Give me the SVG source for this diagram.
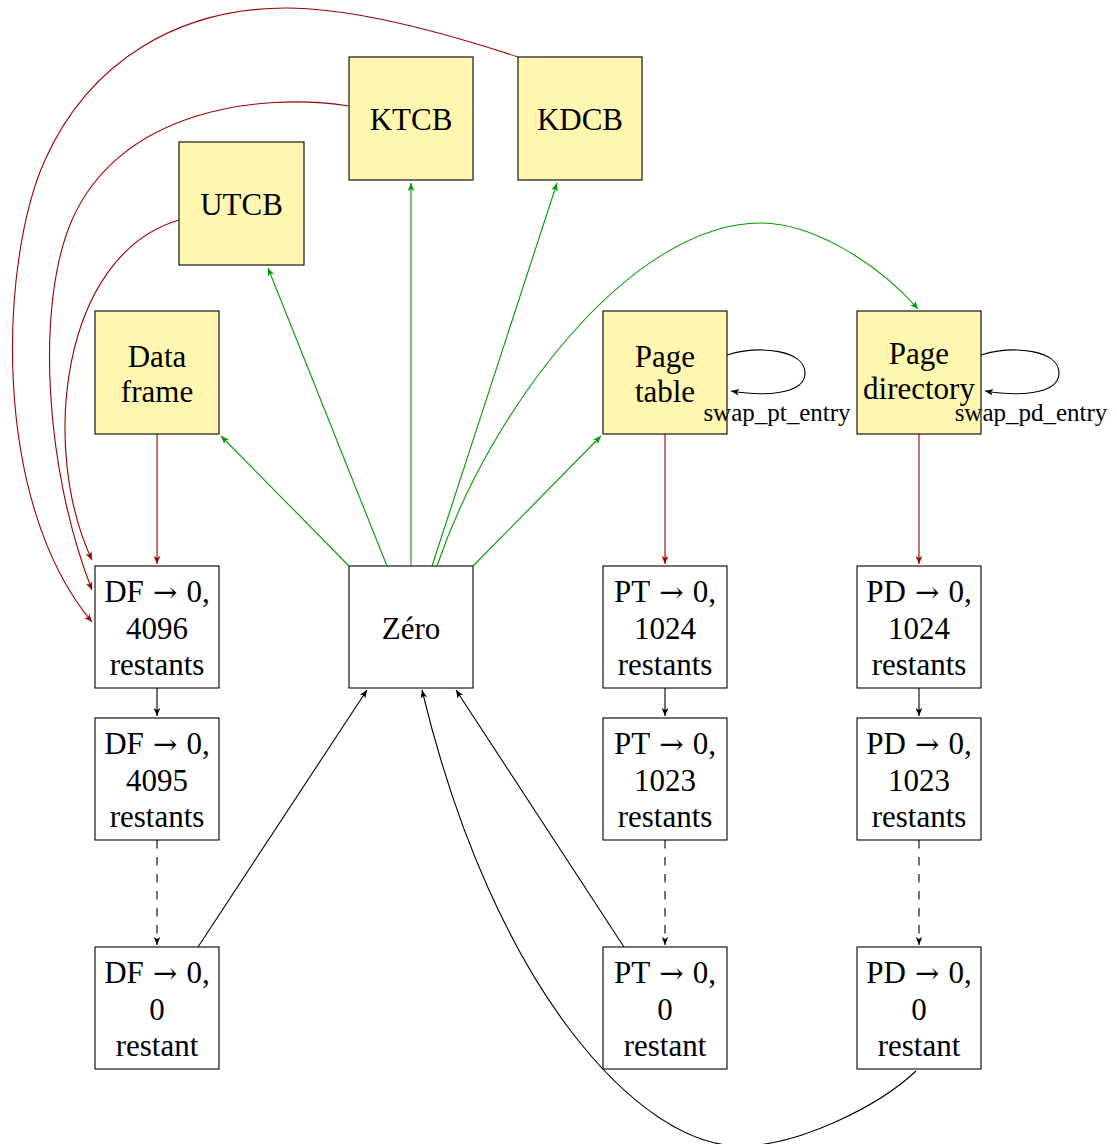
<svg xmlns="http://www.w3.org/2000/svg" width="1117" height="1144" viewBox="0 0 1117 1144">
  <style>
    .box { stroke: #000; stroke-width: 1.1; }
    .store { fill: #fff6b0; }
    .state { fill: #fff; }
    .lbl { font-family: "Liberation Serif", "DejaVu Serif", serif; font-size: 31px; fill: #000; text-anchor: middle; }
    .arr { font-family: "DejaVu Serif", serif; font-size: 29px; }
    .small { font-family: "Liberation Serif", "DejaVu Serif", serif; font-size: 25px; fill: #000; text-anchor: middle; }
    .edge { fill: none; stroke-width: 1.1; }
    .red { stroke: #990000; marker-end: url(#ah-red); }
    .green { stroke: #009900; marker-end: url(#ah-green); }
    .black { stroke: #000; marker-end: url(#ah-black); }
    .dash { stroke-dasharray: 8.5 8.5; }
  </style>
  <defs>
    <marker id="ah-black" viewBox="-9 -4 10 8" refX="0" refY="0" markerWidth="10" markerHeight="8" markerUnits="userSpaceOnUse" orient="auto">
      <path d="M0,0 L-8,-3.3 L-6,0 L-8,3.3 Z" fill="#000"/>
    </marker>
    <marker id="ah-red" viewBox="-9 -4 10 8" refX="0" refY="0" markerWidth="10" markerHeight="8" markerUnits="userSpaceOnUse" orient="auto">
      <path d="M0,0 L-8,-3.3 L-6,0 L-8,3.3 Z" fill="#990000"/>
    </marker>
    <marker id="ah-green" viewBox="-9 -4 10 8" refX="0" refY="0" markerWidth="10" markerHeight="8" markerUnits="userSpaceOnUse" orient="auto">
      <path d="M0,0 L-8,-3.3 L-6,0 L-8,3.3 Z" fill="#009900"/>
    </marker>
  </defs>

  <!-- frame types (yellow) -->
  <g id="ktcb">
    <rect class="box store" x="349" y="57" width="124" height="123"/>
    <text class="lbl" x="411" y="130">KTCB</text>
  </g>
  <g id="kdcb">
    <rect class="box store" x="518" y="57" width="124" height="123"/>
    <text class="lbl" x="580" y="130">KDCB</text>
  </g>
  <g id="utcb">
    <rect class="box store" x="179" y="142" width="125" height="123"/>
    <text class="lbl" x="241.5" y="215">UTCB</text>
  </g>
  <g id="data-frame">
    <rect class="box store" x="95" y="311" width="124" height="123"/>
    <text class="lbl" x="157" y="367">Data</text>
    <text class="lbl" x="157" y="402">frame</text>
  </g>
  <g id="page-table">
    <rect class="box store" x="603" y="311" width="124" height="123"/>
    <text class="lbl" x="665" y="367">Page</text>
    <text class="lbl" x="665" y="402">table</text>
  </g>
  <g id="page-directory">
    <rect class="box store" x="857" y="311" width="124" height="123"/>
    <text class="lbl" x="919" y="364">Page</text>
    <text class="lbl" x="919" y="399">directory</text>
  </g>

  <!-- reference-count states -->
  <g id="zero">
    <rect class="box state" x="349" y="566" width="124" height="122"/>
    <text class="lbl" x="411" y="639">Zéro</text>
  </g>
  <g id="df-4096">
    <rect class="box state" x="95" y="566" width="124" height="122"/>
    <text class="lbl" x="157" y="602">DF<tspan class="arr"> → </tspan>0,</text>
    <text class="lbl" x="157" y="639">4096</text>
    <text class="lbl" x="157" y="675">restants</text>
  </g>
  <g id="df-4095">
    <rect class="box state" x="95" y="718" width="124" height="122"/>
    <text class="lbl" x="157" y="754">DF<tspan class="arr"> → </tspan>0,</text>
    <text class="lbl" x="157" y="791">4095</text>
    <text class="lbl" x="157" y="827">restants</text>
  </g>
  <g id="df-0">
    <rect class="box state" x="95" y="947" width="124" height="122"/>
    <text class="lbl" x="157" y="983">DF<tspan class="arr"> → </tspan>0,</text>
    <text class="lbl" x="157" y="1020">0</text>
    <text class="lbl" x="157" y="1056">restant</text>
  </g>
  <g id="pt-1024">
    <rect class="box state" x="603" y="566" width="124" height="122"/>
    <text class="lbl" x="665" y="602">PT<tspan class="arr"> → </tspan>0,</text>
    <text class="lbl" x="665" y="639">1024</text>
    <text class="lbl" x="665" y="675">restants</text>
  </g>
  <g id="pt-1023">
    <rect class="box state" x="603" y="718" width="124" height="122"/>
    <text class="lbl" x="665" y="754">PT<tspan class="arr"> → </tspan>0,</text>
    <text class="lbl" x="665" y="791">1023</text>
    <text class="lbl" x="665" y="827">restants</text>
  </g>
  <g id="pt-0">
    <rect class="box state" x="603" y="947" width="124" height="122"/>
    <text class="lbl" x="665" y="983">PT<tspan class="arr"> → </tspan>0,</text>
    <text class="lbl" x="665" y="1020">0</text>
    <text class="lbl" x="665" y="1056">restant</text>
  </g>
  <g id="pd-1024">
    <rect class="box state" x="857" y="566" width="124" height="122"/>
    <text class="lbl" x="919" y="602">PD<tspan class="arr"> → </tspan>0,</text>
    <text class="lbl" x="919" y="639">1024</text>
    <text class="lbl" x="919" y="675">restants</text>
  </g>
  <g id="pd-1023">
    <rect class="box state" x="857" y="718" width="124" height="122"/>
    <text class="lbl" x="919" y="754">PD<tspan class="arr"> → </tspan>0,</text>
    <text class="lbl" x="919" y="791">1023</text>
    <text class="lbl" x="919" y="827">restants</text>
  </g>
  <g id="pd-0">
    <rect class="box state" x="857" y="947" width="124" height="122"/>
    <text class="lbl" x="919" y="983">PD<tspan class="arr"> → </tspan>0,</text>
    <text class="lbl" x="919" y="1020">0</text>
    <text class="lbl" x="919" y="1056">restant</text>
  </g>

  <g id="connectors">
    <!-- typing from Zéro -->
    <path class="edge green" d="M349,566 L221,436"/>
    <path class="edge green" d="M387,566 L268,268"/>
    <path class="edge green" d="M411,566 L411,183"/>
    <path class="edge green" d="M432,566 L557,183"/>
    <path class="edge green" d="M473,566 L601,436"/>
    <path class="edge green" d="M437,566 C490,410 630,223 761,223 C810,223 875,260 918,309"/>

    <!-- retyping into data frames -->
    <path class="edge red" d="M157,434 L157,564"/>
    <path class="edge red" d="M665,434 L665,564"/>
    <path class="edge red" d="M919,434 L919,564"/>
    <path class="edge red" d="M179,220 C60,255 40,450 92,560"/>
    <path class="edge red" d="M349,106 C260,92 120,110 72,220 C35,305 45,470 92,590"/>
    <path class="edge red" d="M518,57 C430,28 350,8 286,8 C180,8 90,60 45,160 C0,260 -10,500 92,622"/>

    <!-- countdown chains -->
    <path class="edge black" d="M157,688 L157,716"/>
    <path class="edge black" d="M665,688 L665,716"/>
    <path class="edge black" d="M919,688 L919,716"/>
    <path class="edge black dash" d="M157,840 L157,945"/>
    <path class="edge black dash" d="M665,840 L665,945"/>
    <path class="edge black dash" d="M919,840 L919,945"/>

    <!-- back to Zéro -->
    <path class="edge black" d="M198,947 L367,690"/>
    <path class="edge black" d="M624,947 L456,690"/>
    <path class="edge black" d="M916,1071 C880,1105 800,1146 740,1146 C640,1146 494,990 422,690"/>

    <!-- self loops -->
    <path class="edge black" d="M727,355 C760,345 805,350 805,373 C805,396 760,396 731,391"/>
    <path class="edge black" d="M981,355 C1014,345 1059,350 1059,373 C1059,396 1014,396 985,391"/>
    <text class="small" x="777" y="421">swap_pt_entry</text>
    <text class="small" x="1031" y="421">swap_pd_entry</text>
  </g>
</svg>
